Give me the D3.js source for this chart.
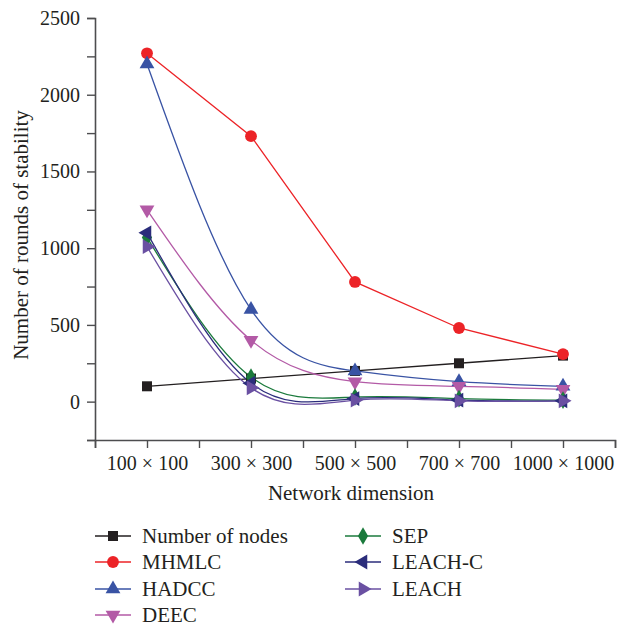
<!DOCTYPE html>
<html>
<head>
<meta charset="utf-8">
<script src="https://cdn.jsdelivr.net/npm/d3@7"></script>
<style>
  html, body { margin: 0; padding: 0; background: #fff; }
  svg { display: block; }
  text { font-family: "Liberation Serif", "DejaVu Serif", serif; fill: #231f20; }
</style>
</head>
<body>
<svg id="chart" width="619" height="627"></svg>
<script>
// Network sizes on the x axis
const categories = ["100 × 100", "300 × 300", "500 × 500", "700 × 700", "1000 × 1000"];

// Rounds of stability for each protocol, plus the node count used
const numberOfNodes = [100, 150, 200, 250, 300];
const mhmlc   = [2270, 1730, 780, 480, 310];
const hadcc   = [2200, 600, 200, 130, 100];
const deec    = [1250, 400, 130, 100, 80];
const sep     = [1070, 160, 30, 20, 10];
const leachC  = [1100, 120, 20, 10, 5];
const leach   = [1010, 90, 10, 5, 5];

const yTicks = [0, 500, 1000, 1500, 2000, 2500];
const yMinorTicks = [-250, 250, 750, 1250, 1750, 2250];

const seriesList = [
  { name: "Number of nodes", values: numberOfNodes, color: "#231f20", shape: "square",  smooth: false },
  { name: "MHMLC",           values: mhmlc,         color: "#ec2327", shape: "circle",  smooth: false },
  { name: "HADCC",           values: hadcc,         color: "#3953a4", shape: "up",      smooth: true },
  { name: "DEEC",            values: deec,          color: "#b35aa6", shape: "down",    smooth: true },
  { name: "SEP",             values: sep,           color: "#1b7a3c", shape: "diamond", smooth: true },
  { name: "LEACH-C",         values: leachC,        color: "#2b2d7b", shape: "left",    smooth: true },
  { name: "LEACH",           values: leach,         color: "#6a50a2", shape: "right",   smooth: true }
];

const svg = d3.select("#chart");
const plotLeft = 95, plotRight = 615, plotTop = 18, plotBottom = 440;

const x = d3.scaleLinear().domain([0.5, categories.length + 0.5]).range([plotLeft, plotRight]);
const y = d3.scaleLinear().domain([-250, 2500]).range([plotBottom, plotTop]);

const axisColor = "#4d4d4f";

// Y axis
svg.append("g").attr("transform", `translate(${plotLeft},0)`)
  .call(d3.axisLeft(y).tickValues(yTicks).tickSize(8).tickPadding(7).tickFormat(d3.format("d")));
svg.append("g").attr("transform", `translate(${plotLeft},0)`)
  .call(d3.axisLeft(y).tickValues(yMinorTicks).tickSize(8).tickFormat(""))
  .call(g => g.select(".domain").remove());

// X axis
svg.append("g").attr("transform", `translate(0,${plotBottom})`)
  .call(d3.axisBottom(x).tickValues(d3.range(1, categories.length + 1)).tickSize(8).tickPadding(8)
    .tickFormat(i => categories[i - 1]));
svg.append("g").attr("transform", `translate(0,${plotBottom})`)
  .call(d3.axisBottom(x).tickValues(d3.range(0.5, categories.length + 1, 1)).tickSize(8).tickFormat(""))
  .call(g => g.select(".domain").remove());

svg.selectAll(".domain").attr("stroke", axisColor).attr("stroke-width", 1.6);
svg.selectAll(".tick line").attr("stroke", axisColor).attr("stroke-width", 1.4);
svg.selectAll(".tick text").style("font-size", "20px").attr("fill", "#231f20")
  .style("font-family", "'Liberation Serif', serif");

// Axis titles
svg.append("text").attr("x", 351).attr("y", 500).attr("text-anchor", "middle")
  .style("font-size", "21px").text("Network dimension");
svg.append("text").attr("transform", "translate(28,235) rotate(-90)").attr("text-anchor", "middle")
  .style("font-size", "21px").text("Number of rounds of stability");

// Marker shapes
function markerPath(shape) {
  const sym = {
    square: [d3.symbolSquare, 100],
    circle: [d3.symbolCircle, 110],
    up: [d3.symbolTriangle, 95],
    down: [d3.symbolTriangle, 95],
    left: [d3.symbolTriangle, 95],
    right: [d3.symbolTriangle, 95],
    diamond: [d3.symbolDiamond, 90]
  }[shape];
  return d3.symbol().type(sym[0]).size(sym[1])();
}
const rotation = { up: 0, down: 180, left: -90, right: 90 };

const plot = svg.append("g");

seriesList.forEach(s => {
  const pts = s.values.map((v, i) => [x(i + 1), y(v)]);
  const line = d3.line().curve(s.smooth ? d3.curveNatural : d3.curveLinear);
  plot.append("path").attr("d", line(pts)).attr("fill", "none")
    .attr("stroke", s.color).attr("stroke-width", 1.3);
});

seriesList.forEach(s => {
  plot.append("g").selectAll("path").data(s.values).join("path")
    .attr("d", markerPath(s.shape))
    .attr("transform", (v, i) => `translate(${x(i + 1)},${y(v)}) rotate(${rotation[s.shape] || 0})`)
    .attr("fill", s.color);
});

// Legend in two columns
const legendRows = [536, 562, 589, 615];
seriesList.forEach((s, i) => {
  const col = i < 4 ? 0 : 1;
  const row = i < 4 ? i : i - 4;
  const lx = col === 0 ? 95 : 345;
  const ly = legendRows[row];
  const g = svg.append("g").attr("transform", `translate(${lx},${ly})`);
  g.append("line").attr("x1", 0).attr("x2", 36).attr("y1", 0).attr("y2", 0)
    .attr("stroke", s.color).attr("stroke-width", 1.3);
  g.append("path").attr("d", markerPath(s.shape))
    .attr("transform", `translate(18,0) rotate(${rotation[s.shape] || 0})`)
    .attr("fill", s.color);
  g.append("text").attr("x", 47).attr("y", 7).style("font-size", "21px").text(s.name);
});
</script>
</body>
</html>
